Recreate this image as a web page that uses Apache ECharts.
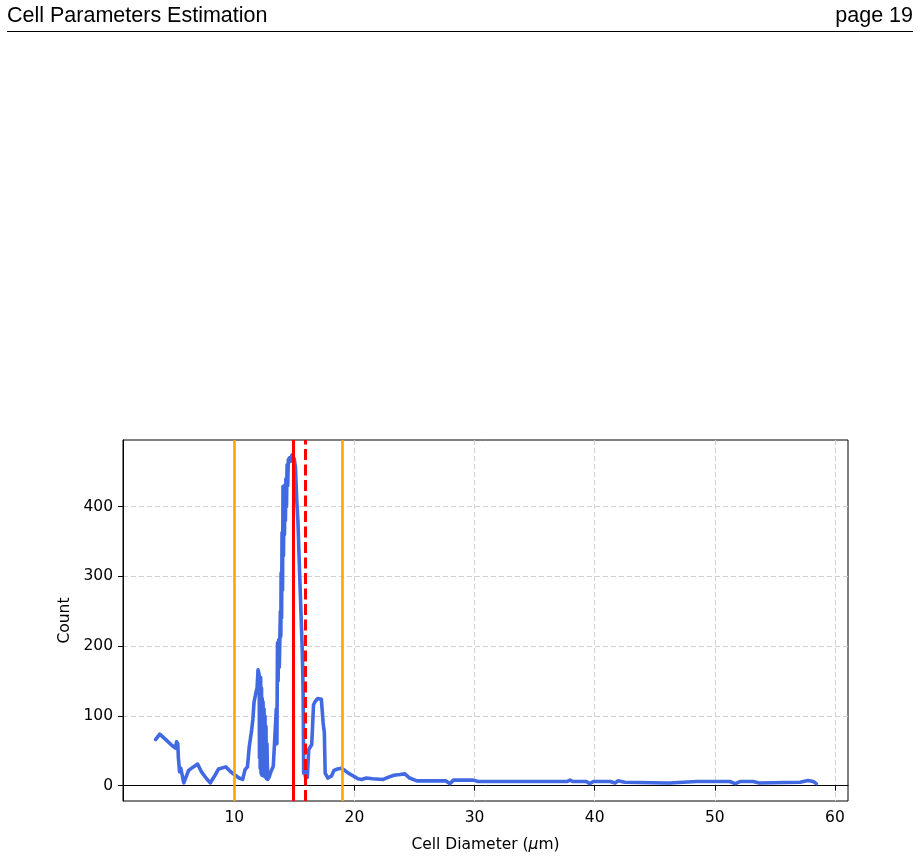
<!DOCTYPE html>
<html>
<head>
<meta charset="utf-8">
<script src="https://cdn.jsdelivr.net/npm/echarts@6/dist/echarts.min.js"></script>
<style>
  html, body { margin: 0; padding: 0; background: #fff; }
  #main { width: 920px; height: 858px; }
</style>
</head>
<body>
<div id="main"></div>
<script>
// cell diameter (um) and counts
var diameters = [
    3.45, 3.8, 4.3, 4.8, 5.1, 5.2, 5.3, 5.35, 5.45, 5.55, 5.8, 6.2, 6.6, 6.95, 7.3, 7.7, 8.0, 8.4, 8.7, 9.3,
    9.7, 10.0, 10.4, 10.7, 10.9, 11.1, 11.25, 11.45, 11.55, 11.65, 11.8, 11.9, 11.98, 12.04, 12.08, 12.1,
    12.13, 12.16, 12.2, 12.23, 12.27, 12.3, 12.33, 12.37, 12.4, 12.44, 12.48, 12.52, 12.56, 12.6, 12.64,
    12.68, 12.72, 12.78, 12.9, 13.05, 13.25, 13.4, 13.5, 13.55, 13.6, 13.65, 13.7, 13.75, 13.8, 13.84,
    13.88, 13.9, 13.94, 13.98, 14.02, 14.06, 14.1, 14.14, 14.18, 14.22, 14.26, 14.3, 14.35, 14.4, 14.45,
    14.5, 14.6, 14.7, 14.8, 14.9, 15.0, 15.1, 15.2, 15.3, 15.45, 15.55, 15.65, 15.7, 15.74, 15.78, 15.85,
    15.92, 16.0, 16.08, 16.2, 16.45, 16.6, 16.75, 16.95, 17.25, 17.4, 17.5, 17.57, 17.8, 18.1, 18.3, 18.6,
    18.9, 19.2, 19.5, 19.7, 20.0, 20.3, 20.6, 21.0, 21.5, 22.4, 22.8, 23.3, 23.8, 24.2, 24.6, 25.2, 26.5,
    27.6, 27.95, 28.25, 29.9, 30.3, 37.7, 37.95, 38.2, 39.3, 39.6, 39.9, 41.3, 41.7, 41.96, 42.5, 46.0,
    46.1, 46.26, 48.5, 51.25, 51.7, 52.1, 53.2, 53.7, 57.1, 57.76, 58.2, 58.45
];
var counts = [
    66, 74, 66, 58, 54, 63, 60, 40, 20, 25, 4, 22, 27, 31, 19, 10, 4, 15, 24, 27,
    20, 16, 11, 9, 23, 27, 56, 80, 95, 120, 133, 140, 166, 162, 158, 40,
    150, 25, 155, 18, 140, 15, 125, 20, 120, 14, 110, 18, 100, 12, 85,
    10, 60, 9, 12, 20, 28, 76, 110, 60, 205, 150, 209, 170, 214, 250,
    214, 305, 240, 363, 280, 429, 330, 429, 360, 431, 380, 440, 400, 460, 430,
    467, 470, 465, 474, 472, 468, 455, 410, 380, 300, 250, 200, 166, 123, 18, 30,
    13, 30, 12, 52, 59, 116, 121, 125, 124, 90, 76, 18, 11, 14, 22, 24,
    25, 22, 18, 16, 13, 10, 9, 11, 10, 9, 12, 15, 16, 17, 11, 7, 7,
    7, 3, 8, 8, 6, 6, 8, 6, 6, 3, 6, 6, 4, 7, 5, 4,
    2, 4, 6, 6, 3, 6, 6, 4, 5, 7.5, 6, 3
];

var xTicks = [10, 20, 30, 40, 50, 60];
var yTicks = [0, 100, 200, 300, 400];

// vertical markers: orange bounds, red solid / red dashed centres
var boundLines = [10.0, 19.0];
var solidCenter = [14.92];
var dashedCenter = [15.92];

var chartDom = document.getElementById('main');
var myChart = echarts.init(chartDom);
var option;

var points = diameters.map(function (d, i) {
    return [d, counts[i]];
});

var markData = [];
boundLines.forEach(function (v) {
    markData.push({ xAxis: v, lineStyle: { color: '#FFA500', width: 2.6, type: 'solid' } });
});
solidCenter.forEach(function (v) {
    markData.push({ xAxis: v, lineStyle: { color: '#FF0000', width: 3, type: 'solid' } });
});
dashedCenter.forEach(function (v) {
    markData.push({ xAxis: v, lineStyle: { color: '#FF0000', width: 3, type: [11, 4.5] } });
});

var gridDash = { color: '#d0d0d0', width: 1, type: [5, 3] };

option = {
    animation: false,
    backgroundColor: '#fff',
    textStyle: { fontFamily: 'DejaVu Sans' },
    graphic: [
        {
            type: 'text', left: 7, top: 5,
            style: { text: 'Cell Parameters Estimation', font: '21.5px "Liberation Sans"', fill: '#000' }
        },
        {
            type: 'text', right: 7, top: 5,
            style: { text: 'page 19', font: '21.5px "Liberation Sans"', fill: '#000', textAlign: 'right' }
        },
        {
            type: 'line',
            shape: { x1: 7, y1: 31.5, x2: 913, y2: 31.5 },
            style: { stroke: '#000', lineWidth: 1 }
        }
    ],
    grid: {
        left: 123,
        right: 72,
        top: 440,
        bottom: 57,
        show: true,
        borderColor: '#000',
        borderWidth: 1,
        backgroundColor: 'transparent'
    },
    xAxis: {
        type: 'value',
        min: 0.74,
        max: 61.09,
        name: 'Cell Diameter ({i|μ}m)',
        nameLocation: 'middle',
        nameGap: 36,
        nameTextStyle: {
            fontSize: 15.5, color: '#000', fontFamily: 'DejaVu Sans',
            rich: { i: { fontSize: 15.5, fontStyle: 'italic', color: '#000', fontFamily: 'DejaVu Sans' } }
        },
        axisLine: { show: true, lineStyle: { color: '#000', width: 1 } },
        axisTick: { show: true, length: 5, customValues: xTicks, lineStyle: { color: '#000' } },
        axisLabel: { customValues: xTicks, fontSize: 15.5, color: '#000', margin: 9 },
        splitLine: { show: true, lineStyle: gridDash }
    },
    yAxis: {
        type: 'value',
        min: -21.9,
        max: 495.5,
        name: 'Count',
        nameLocation: 'middle',
        nameGap: 48,
        nameRotate: 90,
        nameTextStyle: { fontSize: 15.5, color: '#000', fontFamily: 'DejaVu Sans' },
        axisLine: { show: true, lineStyle: { color: '#000', width: 1 } },
        axisTick: { show: true, length: 5, customValues: yTicks, lineStyle: { color: '#000' } },
        axisLabel: { customValues: yTicks, fontSize: 15.5, color: '#000', margin: 10 },
        splitLine: { show: true, lineStyle: gridDash }
    },
    series: [
        {
            name: 'counts',
            type: 'line',
            data: points,
            showSymbol: false,
            symbol: 'none',
            lineStyle: { color: '#4169E1', width: 3.6, join: 'round', cap: 'round' },
            z: 2
        },
        {
            name: 'markers',
            type: 'line',
            data: [],
            z: 5,
            markLine: {
                silent: true,
                symbol: ['none', 'none'],
                label: { show: false },
                animation: false,
                data: markData
            }
        }
    ]
};

option && myChart.setOption(option);
</script>
</body>
</html>
